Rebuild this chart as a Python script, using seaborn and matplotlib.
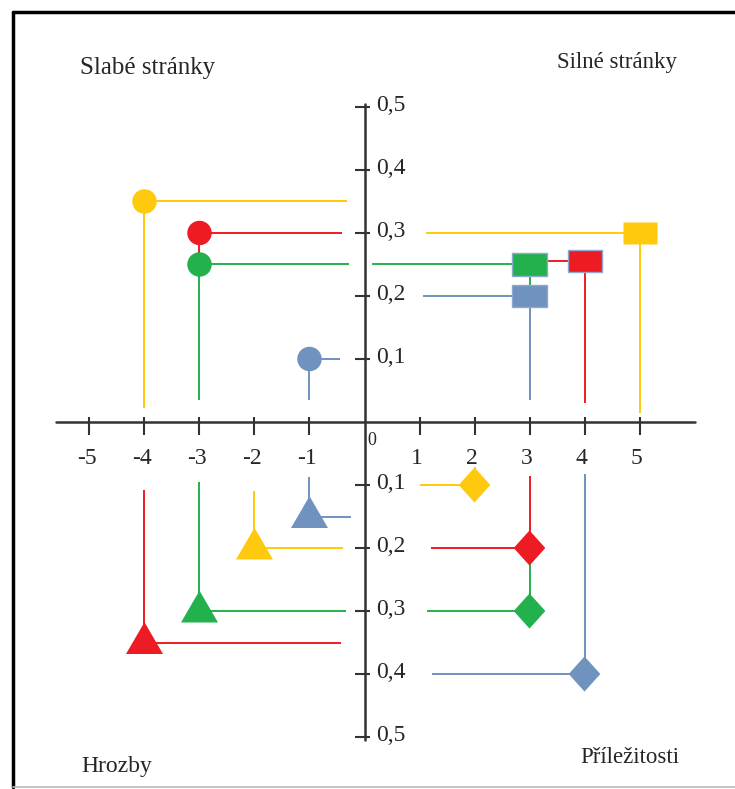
# SWOT diagram - silné/slabé stránky, příležitosti, hrozby
import numpy as np
import pandas as pd
import seaborn as sns
import matplotlib.pyplot as plt
from matplotlib.lines import Line2D

# barvy řad
PALETTE = {"yellow": "#FFC90E", "red": "#ED1C24", "green": "#22B14C", "blue": "#7092BE"}
series = ["yellow", "red", "green", "blue"]

# Silné stránky (obdélníky)
strong_x = [5, 4, 3, 3]
strong_y = [0.3, 0.255, 0.25, 0.2]
strong_h_stop = [1.12, 3.0, 0.13, 1.06]
strong_v_stop = [0.015, 0.03, 0.2, 0.035]

# Slabé stránky (kruhy)
weak_x = [-4, -3, -3, -1]
weak_y = [0.35, 0.3, 0.25, 0.1]
weak_h_stop = [-0.31, -0.41, -0.28, -0.44]
weak_v_stop = [0.022, 0.25, 0.035, 0.035]

# Příležitosti (kosočtverce)
opp_x = [2, 3, 3, 4]
opp_y = [-0.1, -0.2, -0.3, -0.4]
opp_h_stop = [1.0, 1.2, 1.14, 1.23]
opp_v_stop = [-0.071, -0.086, -0.2, -0.083]

# Hrozby (trojúhelníky)
threat_x = [-2, -4, -3, -1]
threat_y = [-0.2, -0.35, -0.3, -0.15]
threat_h_stop = [-0.39, -0.43, -0.34, -0.25]
threat_v_stop = [-0.11, -0.108, -0.095, -0.087]

x_ticks = [-5, -4, -3, -2, -1, 1, 2, 3, 4, 5]
y_ticks = [0.5, 0.4, 0.3, 0.2, 0.1, -0.1, -0.2, -0.3, -0.4, -0.5]

quadrant_labels = ["Slabé stránky", "Silné stránky", "Hrozby", "Příležitosti"]

# tvary značek
RECT = np.array([(-1, -0.65), (1, -0.65), (1, 0.65), (-1, 0.65), (-1, -0.65)])
TRI = np.array([(0, 1.1), (-1, -0.62), (1, -0.62), (0, 1.1)])
DIAMOND = np.array([(0, 1), (0.9, 0), (0, -1), (-0.9, 0), (0, 1)])

LINE_W = 1.4
AXIS_COLOR = "#333333"
RECT_EDGE = ["none", "#8FA8CF", "#8FA8CF", "#8FA8CF"]


def make_df(x, y, h_stop, v_stop):
    """
    Builds a small df for one quadrant.
    """
    return pd.DataFrame({"x": x, "y": y, "h_stop": h_stop,
                         "v_stop": v_stop, "series": series})


def draw_quadrant(ax, df, marker, size, edge="none", lw=0):
    """
    Draws guide lines and markers for one quadrant.
    """
    colors = df["series"].map(PALETTE).tolist()
    ax.hlines(df["y"], df["x"], df["h_stop"], colors=colors, lw=LINE_W, zorder=2)
    ax.vlines(df["x"], df["y"], df["v_stop"], colors=colors, lw=LINE_W, zorder=2)
    sns.scatterplot(data=df, x="x", y="y", hue="series", palette=PALETTE,
                    marker=marker, s=size, edgecolor=edge, linewidth=lw,
                    legend=False, ax=ax, zorder=3)


def main():
    sns.set_style("white")
    plt.rcParams["font.family"] = ["Liberation Serif", "DejaVu Serif"]

    fig = plt.figure(figsize=(7.35, 7.89), dpi=100)
    ax = fig.add_axes([0, 0, 1, 1])
    ax.set_xlim(-6.627, 6.736)
    ax.set_ylim(-0.5825, 0.6698)
    ax.set_axis_off()

    # osy
    ax.plot([-5.6, 6.0], [0, 0], color=AXIS_COLOR, lw=1.8, zorder=1)
    ax.plot([0, 0], [-0.505, 0.505], color=AXIS_COLOR, lw=1.8, zorder=1)
    ax.vlines(x_ticks, -0.021, 0.008, color=AXIS_COLOR, lw=1.5, zorder=1)
    ax.hlines(y_ticks, -0.17, 0.10, color=AXIS_COLOR, lw=1.5, zorder=1)

    for x in x_ticks:
        ax.text(x - 0.05, -0.058, f"{x}", ha="center", va="center", fontsize=17)
    for y in y_ticks:
        label = f"{abs(y):.1f}".replace(".", ",")
        ax.text(0.22, y + 0.002, label, ha="left", va="center", fontsize=17)
    ax.text(0.14, -0.029, "0", ha="center", va="center", fontsize=13)

    draw_quadrant(ax, make_df(strong_x, strong_y, strong_h_stop, strong_v_stop),
                  RECT, 600, edge=RECT_EDGE, lw=1.0)
    draw_quadrant(ax, make_df(weak_x, weak_y, weak_h_stop, weak_v_stop), "o", 310)
    draw_quadrant(ax, make_df(opp_x, opp_y, opp_h_stop, opp_v_stop), DIAMOND, 640)
    draw_quadrant(ax, make_df(threat_x, threat_y, threat_h_stop, threat_v_stop),
                  TRI, 860)

    # popisky kvadrantů
    ax.text(-5.17, 0.562, quadrant_labels[0], ha="left", va="center", fontsize=18)
    ax.text(3.5, 0.570, quadrant_labels[1], ha="left", va="center", fontsize=16.5)
    ax.text(-5.14, -0.546, quadrant_labels[2], ha="left", va="center", fontsize=17)
    ax.text(3.92, -0.532, quadrant_labels[3], ha="left", va="center", fontsize=16.5)

    # rámeček
    fig.add_artist(Line2D([13 / 735, 1], [1 - 12 / 789] * 2, color="black", lw=2.5))
    fig.add_artist(Line2D([13 / 735] * 2, [2 / 789, 1 - 12 / 789], color="black", lw=2.5))
    fig.add_artist(Line2D([13 / 735, 1], [2 / 789] * 2, color="#BBBBBB", lw=1.2))

    fig.savefig("out.png", dpi=100)


if __name__ == "__main__":
    main()
